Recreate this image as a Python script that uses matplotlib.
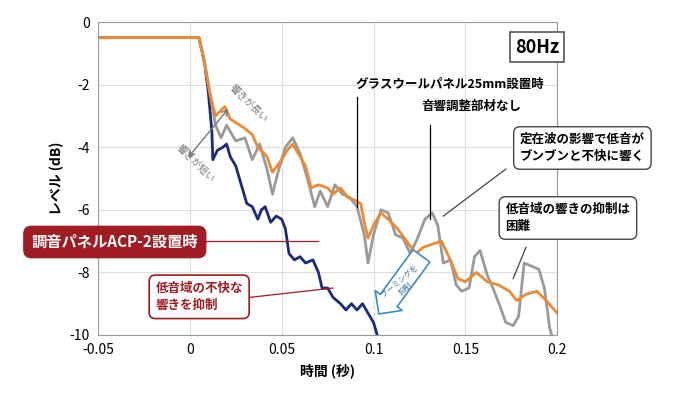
import matplotlib
matplotlib.use("Agg")
import matplotlib.pyplot as plt
from matplotlib.patches import FancyArrowPatch

plt.rcParams["font.family"] = "Noto Sans CJK JP"
plt.rcParams["axes.unicode_minus"] = False

# orange: no acoustic treatment
t_none = [-0.05, 0.0, 0.005, 0.008, 0.011, 0.014, 0.019, 0.022, 0.03, 0.034, 0.037, 0.042,
          0.045, 0.05, 0.053, 0.056, 0.06, 0.063, 0.066, 0.07, 0.075, 0.078, 0.082, 0.086,
          0.09, 0.093, 0.095, 0.097, 0.1, 0.104, 0.108, 0.113, 0.118, 0.123, 0.127, 0.132,
          0.137, 0.141, 0.146, 0.15, 0.156, 0.162, 0.168, 0.174, 0.178, 0.183, 0.189, 0.194, 0.2]
v_none = [-0.5, -0.5, -0.5, -1.3, -2.3, -3.0, -2.7, -3.1, -3.4, -3.6, -4.0, -4.3,
          -4.8, -4.4, -4.1, -3.9, -4.3, -4.6, -5.3, -5.2, -5.3, -5.5, -5.3, -5.6,
          -5.7, -5.8, -6.4, -6.9, -6.5, -6.1, -6.3, -6.6, -7.0, -7.4, -7.2, -7.1,
          -7.0, -7.5, -8.2, -8.3, -8.0, -8.3, -8.4, -8.6, -8.9, -8.7, -8.6, -8.9, -9.3]

# gray: glass wool panel 25mm
t_gw = [-0.05, 0.0, 0.005, 0.008, 0.011, 0.014, 0.017, 0.02, 0.025, 0.03, 0.034, 0.038,
        0.042, 0.045, 0.048, 0.052, 0.056, 0.06, 0.064, 0.068, 0.071, 0.075, 0.079, 0.083,
        0.087, 0.091, 0.095, 0.097, 0.1, 0.104, 0.108, 0.112, 0.116, 0.12, 0.124, 0.128,
        0.132, 0.135, 0.138, 0.142, 0.145, 0.148, 0.152, 0.155, 0.158, 0.162, 0.165, 0.169,
        0.172, 0.176, 0.179, 0.182, 0.186, 0.19, 0.193, 0.196, 0.198]
v_gw = [-0.5, -0.5, -0.5, -1.3, -2.3, -3.3, -3.7, -3.3, -3.8, -3.7, -4.4, -3.9,
        -4.7, -5.5, -4.8, -4.0, -3.7, -4.2, -5.0, -5.9, -5.4, -5.9, -5.2, -5.5,
        -5.6, -5.9, -6.8, -7.7, -6.8, -6.0, -6.1, -6.8, -6.9, -7.4, -6.9, -6.3,
        -6.1, -6.5, -7.7, -7.6, -8.4, -8.6, -8.5, -7.5, -7.3, -8.1, -8.5, -9.1,
        -9.6, -9.7, -9.4, -7.7, -7.8, -7.9, -8.5, -9.8, -10.2]

# navy: ACP-2 panel
t_acp = [-0.05, 0.0, 0.005, 0.008, 0.01, 0.012, 0.0125, 0.015, 0.018, 0.02, 0.022, 0.025,
         0.028, 0.031, 0.034, 0.037, 0.039, 0.041, 0.044, 0.047, 0.05, 0.052, 0.054, 0.057,
         0.06, 0.063, 0.067, 0.07, 0.072, 0.075, 0.078, 0.082, 0.085, 0.088, 0.091, 0.094,
         0.097, 0.1, 0.102, 0.104]
v_acp = [-0.5, -0.5, -0.5, -1.3, -2.2, -3.5, -4.4, -4.1, -4.0, -3.9, -4.3, -4.6,
         -5.2, -5.8, -5.9, -6.3, -6.0, -5.9, -6.4, -6.2, -6.3, -6.6, -7.4, -7.6,
         -7.5, -7.7, -7.6, -8.0, -8.5, -8.5, -8.8, -9.0, -9.2, -9.0, -9.2, -9.0,
         -9.3, -9.6, -10.0, -10.3]

x_ticks = [-0.05, 0, 0.05, 0.1, 0.15, 0.2]
x_labels = ["-0.05", "0", "0.05", "0.1", "0.15", "0.2"]
y_ticks = [0, -2, -4, -6, -8, -10]

fig = plt.figure(figsize=(7, 4), dpi=100)
ax = fig.add_axes([0.14, 0.1625, 0.656, 0.7825])
ax.plot(t_acp, v_acp, color="#1c2a7a", lw=2)
ax.plot(t_gw, v_gw, color="#9a9a9a", lw=2)
ax.plot(t_none, v_none, color="#ec8a35", lw=2)
ax.set_xlim(-0.05, 0.2)
ax.set_ylim(-10, 0)
ax.set_xticks(x_ticks, x_labels)
ax.set_yticks(y_ticks)
ax.grid(color="#dddddd", lw=0.8)
ax.tick_params(length=0, labelsize=10)
ax.tick_params(axis="x", pad=6)
ax.tick_params(axis="y", pad=6)
for s in ax.spines.values():
    s.set_color("#999999")
ax.set_xlabel("時間 (秒)", fontsize=10, fontweight="bold")
ax.set_ylabel("レベル (dB)", fontsize=10, fontweight="bold")

ax.text(0.189, -0.8, "80Hz", fontsize=13, fontweight="bold", ha="center", va="center",
        bbox=dict(boxstyle="square,pad=0.3", fc="white", ec="#555555", lw=1.2))

ax.text(0.09, -2.1, "グラスウールパネル25mm設置時", fontsize=9, fontweight="bold", ha="left")
ax.plot([0.091, 0.091], [-2.4, -5.9], color="black", lw=0.9)
ax.text(0.126, -2.8, "音響調整部材なし", fontsize=9, fontweight="bold", ha="left")
ax.plot([0.131, 0.131], [-3.3, -6.3], color="black", lw=0.9)

bub = dict(boxstyle="round,pad=0.5", fc="white", ec="#444444", lw=1)
fig.text(0.832, 0.63, "定在波の影響で低音が\nブンブンと不快に響く", fontsize=9, fontweight="bold",
         ha="center", va="center", bbox=bub, linespacing=1.4)
ax.plot([0.138, 0.172], [-6.2, -4.7], color="#444444", lw=0.9)
fig.text(0.722, 0.455, "低音域の響きの抑制は\n困難", fontsize=9, fontweight="bold",
         ha="left", va="center", bbox=bub, linespacing=1.4)
ax.plot([0.176, 0.183], [-8.2, -7.2], color="#444444", lw=0.9)

fig.text(0.045, 0.395, "調音パネルACP-2設置時", fontsize=11, fontweight="bold", color="white",
         ha="left", va="center",
         bbox=dict(boxstyle="round,pad=0.5", fc="#9e1c22", ec="#9e1c22"))
ax.plot([0.0, 0.07], [-7.0, -7.0], color="#9e1c22", lw=0.9)
fig.text(0.222, 0.258, "低音域の不快な\n響きを抑制", fontsize=9, fontweight="bold", color="#9e1c22",
         ha="left", va="center", linespacing=1.5,
         bbox=dict(boxstyle="round,pad=0.5", fc="white", ec="#9e1c22", lw=1.2))
ax.plot([0.017, 0.078], [-8.9, -8.5], color="#9e1c22", lw=0.9)

ax.add_patch(FancyArrowPatch((0.127, -7.4), (0.102, -9.4),
                             arrowstyle="simple,head_width=24,head_length=12,tail_width=15",
                             fc="white", ec="#3a8fc0", lw=1.2, zorder=5))
ax.text(0.116, -8.4, "ブーミングを\n抑制", fontsize=5.5, color="#3a6f9a", rotation=40,
        ha="center", va="center", zorder=6, linespacing=1.2)

ax.annotate("", xy=(0.022, -2.7), xytext=(-0.002, -4.4),
            arrowprops=dict(arrowstyle="<->", color="#777777", lw=1))
ax.text(0.032, -2.6, "響きが長い", fontsize=7, color="#777777", rotation=-45, ha="center", va="center")
ax.text(0.003, -4.5, "響きが短い", fontsize=7, color="#777777", rotation=-45, ha="center", va="center")

fig.savefig("out.png", dpi=100)
